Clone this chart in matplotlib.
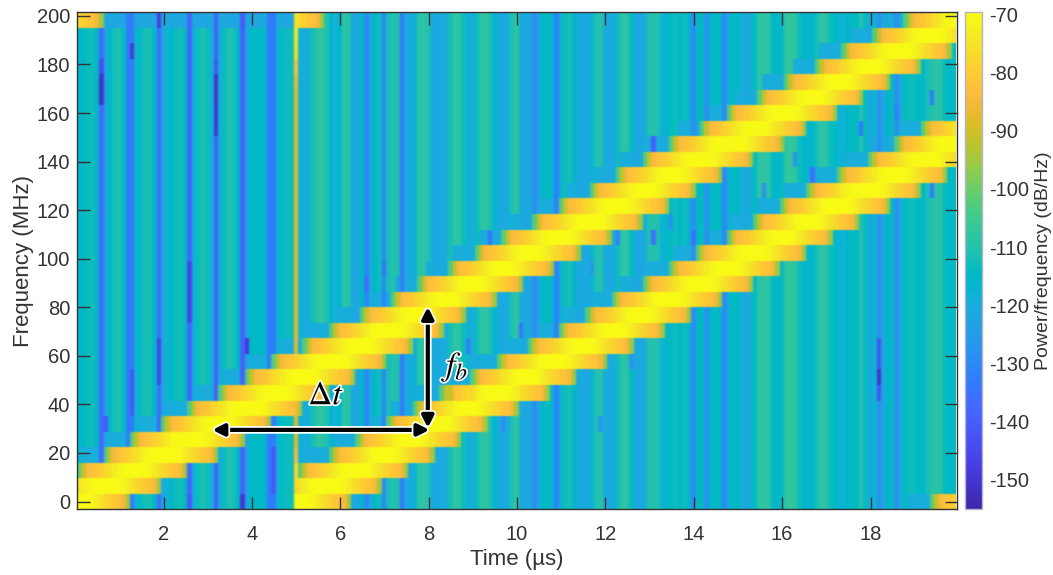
import matplotlib
matplotlib.use('Agg')
import matplotlib.pyplot as plt
import matplotlib.patheffects as pe
from matplotlib.colors import LinearSegmentedColormap
import numpy as np

plt.rcParams['font.family'] = ['Liberation Sans', 'DejaVu Sans']
plt.rcParams['mathtext.fontset'] = 'stix'
plt.rcParams['axes.unicode_minus'] = False

# Colour table of the colour bar
parula_rgb = [
    (0.2422, 0.1504, 0.6603), (0.2504, 0.1650, 0.7076), (0.2578, 0.1818, 0.7511), (0.2647, 0.1978, 0.7952),
    (0.2706, 0.2147, 0.8364), (0.2751, 0.2342, 0.8710), (0.2783, 0.2559, 0.8991), (0.2803, 0.2782, 0.9221),
    (0.2813, 0.3006, 0.9414), (0.2810, 0.3228, 0.9579), (0.2795, 0.3447, 0.9717), (0.2760, 0.3667, 0.9829),
    (0.2699, 0.3892, 0.9906), (0.2602, 0.4123, 0.9952), (0.2440, 0.4358, 0.9988), (0.2206, 0.4603, 0.9973),
    (0.1963, 0.4847, 0.9892), (0.1834, 0.5074, 0.9798), (0.1786, 0.5289, 0.9682), (0.1764, 0.5499, 0.9520),
    (0.1687, 0.5703, 0.9359), (0.1540, 0.5902, 0.9218), (0.1460, 0.6091, 0.9079), (0.1380, 0.6276, 0.8973),
    (0.1248, 0.6459, 0.8883), (0.1113, 0.6635, 0.8763), (0.0952, 0.6798, 0.8598), (0.0689, 0.6948, 0.8394),
    (0.0297, 0.7082, 0.8163), (0.0036, 0.7203, 0.7917), (0.0067, 0.7312, 0.7660), (0.0433, 0.7411, 0.7394),
    (0.0964, 0.7500, 0.7120), (0.1408, 0.7584, 0.6842), (0.1717, 0.7670, 0.6554), (0.1938, 0.7758, 0.6251),
    (0.2161, 0.7843, 0.5923), (0.2470, 0.7918, 0.5567), (0.2906, 0.7973, 0.5188), (0.3406, 0.8008, 0.4789),
    (0.3909, 0.8029, 0.4354), (0.4456, 0.8024, 0.3909), (0.5044, 0.7993, 0.3480), (0.5616, 0.7942, 0.3045),
    (0.6174, 0.7876, 0.2612), (0.6720, 0.7793, 0.2227), (0.7242, 0.7698, 0.1910), (0.7738, 0.7598, 0.1646),
    (0.8203, 0.7498, 0.1535), (0.8634, 0.7406, 0.1596), (0.9035, 0.7330, 0.1774), (0.9393, 0.7288, 0.2100),
    (0.9728, 0.7298, 0.2394), (0.9956, 0.7434, 0.2371), (0.9970, 0.7659, 0.2199), (0.9952, 0.7893, 0.2028),
    (0.9892, 0.8136, 0.1885), (0.9786, 0.8386, 0.1766), (0.9676, 0.8639, 0.1643), (0.9610, 0.8890, 0.1537),
    (0.9597, 0.9135, 0.1423), (0.9628, 0.9373, 0.1265), (0.9691, 0.9606, 0.1064), (0.9769, 0.9839, 0.0805),
]

# Noise floor of each 0.1 us column (dB/Hz)
column_db = [
    -116, -115, -113, -113, -115, -137, -122, -116, -112, -111,
    -114, -133, -134, -118, -114, -112, -112, -115, -137, -122,
    -118, -115, -113, -112, -114, -138, -119, -113, -111, -113,
    -119, -139, -119, -113, -111, -112, -115, -139, -123, -115,
    -114, -115, -117, -133, -133, -118, -114, -113, -113, -88,
    -118, -121, -118, -112, -108, -108, -111, -117, -119, -115,
    -109, -110, -121, -122, -115, -130, -120, -115, -113, -131,
    -112, -110, -111, -134, -121, -121, -118, -109, -109, -110,
    -120, -121, -121, -120, -112, -108, -108, -113, -119, -120,
    -113, -109, -108, -111, -117, -121, -121, -119, -111, -109,
    -120, -122, -121, -129, -121, -115, -114, -116, -132, -118,
    -113, -112, -116, -121, -121, -121, -118, -111, -110, -120,
    -121, -121, -113, -109, -109, -114, -121, -122, -120, -111,
    -110, -111, -118, -116, -114, -113, -115, -113, -117, -129,
    -115, -114, -128, -116, -114, -115, -130, -118, -114, -115,
    -120, -121, -119, -114, -109, -108, -109, -115, -116, -114,
    -108, -107, -108, -113, -116, -117, -116, -112, -109, -109,
    -113, -115, -118, -118, -116, -114, -115, -110, -114, -122,
    -118, -128, -122, -116, -114, -128, -120, -114, -113, -113,
    -115, -116, -112, -110, -109, -110, -114, -115, -114,
]

# Chirp bands: (row, start, end), row is the frequency bin, times in us
band_row = [
    0, 1, 2, 3, 4, 5, 6, 7, 8, 9, 10, 11, 12, 13, 14, 15,
    16, 17, 18, 19, 20, 21, 22, 23, 24, 25, 26, 27, 28, 29, 30, 31,
    31, 0,
    0, 1, 2, 3, 4, 5, 6, 7, 8, 9, 10, 11, 12,
    13, 14, 15, 16, 17, 18, 19, 20, 21, 22, 23, 24,
    31,
]
band_start = [
    -1.25, -0.62, 0.02, 0.67, 1.28, 1.92, 2.55, 3.20, 3.82, 4.47, 5.10, 5.76, 6.44, 7.10, 7.76, 8.40,
    9.00, 9.60, 10.30, 10.96, 11.60, 12.20, 12.85, 13.45, 14.10, 14.77, 15.45, 16.06, 16.70, 17.30, 18.00, 18.70,
    -1.90, 19.30,
    3.75, 4.38, 5.03, 5.70, 6.30, 7.00, 7.64, 8.29, 8.97, 9.57, 10.24, 10.90, 11.53,
    12.17, 12.80, 13.45, 14.07, 14.70, 15.30, 15.98, 16.55, 17.20, 17.90, 18.55, 19.15,
    3.10,
]
band_end = [
    1.28, 1.92, 2.55, 3.20, 3.80, 4.47, 5.10, 5.75, 6.35, 7.00, 7.65, 8.30, 8.87, 9.50, 10.13, 10.80,
    11.45, 12.10, 12.80, 13.40, 14.00, 14.65, 15.30, 16.00, 16.55, 17.20, 17.80, 18.40, 19.15, 19.80, 20.50, 21.10,
    0.65, 21.90,
    6.28, 6.92, 7.55, 8.14, 8.78, 9.38, 10.00, 10.70, 11.35, 12.00, 12.60, 13.30, 13.95,
    14.60, 15.30, 15.95, 16.55, 17.15, 17.75, 18.40, 19.10, 19.70, 20.40, 21.00, 21.70,
    5.65,
]
# Second chirp only exists after the switch at 5 us
band_from = [-9.0] * 34 + [4.94] * 26

# Power across the edge of a band, one value per column
rise_db = [-102, -91, -84, -82, -81, -79, -77, -75, -73, -71]
fall_db = [-71, -73, -75, -77, -79, -81, -82, -85, -95]
top_db = -70

# Single cells that differ from their column
spot_time = [0.6, 0.6, 0.6, 1.25, 1.85, 3.2, 3.2, 3.2, 3.2, 3.2, 3.8,
             2.6, 2.6, 2.6, 2.6, 1.9, 1.9, 1.9, 3.85, 1.25, 1.25, 1.25, 0.65, 3.8, 2.55,
             4.45, 4.45, 4.45, 18.2, 18.2, 18.2, 18.2,
             7.0, 7.0, 10.13, 8.85, 11.65, 17.03, 13.97, 16.7, 19.35, 18.55, 19.35, 17.8,
             9.4, 13.1, 13.1, 12.25, 6.62, 9.7, 11.1, 11.9, 15.6, 16.3, 13.5, 12.6]
spot_row = [26, 27, 28, 29, 31, 24, 25, 26, 27, 28, 31,
            12, 13, 14, 15, 8, 9, 10, 10, 6, 7, 8, 5, 0, 0,
            1, 2, 3, 8, 7, 9, 10,
            15, 7, 11, 10, 15, 28, 17, 21, 20, 25, 26, 24,
            17, 23, 17, 17, 14, 5, 8, 5, 20, 22, 18, 9]
spot_db = [-151, -151, -144, -149, -148, -150, -150, -151, -151, -142, -141,
           -146, -146, -146, -146, -146, -146, -146, -149, -142, -142, -142, -141, -150, -141,
           -141, -141, -141, -151, -143, -143, -143,
           -136, -130, -134, -132, -126, -134, -136, -136, -134, -132, -133, -134,
           -136, -140, -136, -131, -136, -128, -129, -126, -128, -127, -129, -127]

# Cells of the 5 us line that are not green
line_row = [2, 3, 27, 28, 29, 30]
line_db = [-78, -84, -86, -82, -76, -74]

# Arrows and labels
dt_arrow_t = [3.1, 8.02]
dt_arrow_f = [29.5, 29.5]
fb_arrow_t = [7.98, 7.98]
fb_arrow_f = [30.3, 80.2]

time_step = 0.1
freq_step = 6.4
time_first = 0.04


def soften(image, dpi):
    # The reference is a slightly blurred screenshot
    out = np.pad(image, 2, mode='edge')[:, :, 2:-2]
    for axis, weights in [(1, (0.25, 0.5, 0.25)), (1, (0.25, 0.5, 0.25)), (0, (0.2, 0.6, 0.2))]:
        out = weights[0] * np.roll(out, 1, axis) + weights[1] * out + weights[2] * np.roll(out, -1, axis)
    return out[2:-2, 2:-2], 0, 0


# Build the power matrix
n_rows = 32
n_cols = len(column_db)
time_edges = time_first + time_step * np.arange(n_cols + 1)
freq_edges = freq_step * (np.arange(n_rows + 1) - 0.5)
time_mid = (time_edges[:-1] + time_edges[1:]) / 2
power = np.tile(np.array(column_db, dtype=float), (n_rows, 1))

# The top row stays a flat blue left of the switch
power[31, :49] = np.minimum(power[31, :49], -122)

for t, r, db in zip(spot_time, spot_row, spot_db):
    power[r, np.argmin(np.abs(time_mid - t))] = db

for r, db in zip(line_row, line_db):
    power[r, 49] = db

# Dim the cells just before a band, then draw the band
for r, start, end, t_from in zip(band_row, band_start, band_end, band_from):
    before = (time_mid > start - 0.5) & (time_mid < start) & (time_mid > t_from) & (time_mid < 4.94)
    power[r, before] = np.minimum(power[r, before], -120)
    before = (time_mid > start - 0.5) & (time_mid < start) & (time_mid > t_from) & (time_mid > 5.04)
    power[r, before] = np.minimum(power[r, before], -120)
for r, start, end, t_from in zip(band_row, band_start, band_end, band_from):
    for c in np.where((time_mid >= start) & (time_mid <= end) & (time_mid > t_from))[0]:
        from_start = int((time_mid[c] - start) / time_step)
        from_end = int((end - time_mid[c]) / time_step)
        db = top_db
        if from_start < len(rise_db):
            db = rise_db[from_start]
        if from_end < len(fall_db):
            db = min(db, fall_db[len(fall_db) - 1 - from_end])
        power[r, c] = db

# Create the figure
W, H = 1053, 575
fig = plt.figure(figsize=(W / 100, H / 100), dpi=100)
ax = fig.add_axes([77 / W, 1 - 509.3 / H, (956.7 - 77) / W, (509.3 - 12) / H])
cax = fig.add_axes([965 / W, 1 - 509.3 / H, (981.7 - 965) / W, (509.3 - 12) / H])

parula = LinearSegmentedColormap.from_list('parula', parula_rgb, N=256)
mesh = ax.pcolormesh(time_edges, freq_edges, power, cmap=parula, vmin=-155.2, vmax=-69.5, shading='flat')
mesh.set_agg_filter(soften)

ax.set_xlim(time_edges[0], 19.95)
ax.set_ylim(freq_edges[0], freq_edges[-1])
ax.set_xticks(np.arange(2, 20, 2))
ax.set_yticks(np.arange(0, 220, 20))
ax.tick_params(direction='in', length=9, width=1, top=True, right=True, labelsize=14.5,
               colors='#333333', pad=5)
ax.tick_params(axis='x', pad=11)
ax.set_axisbelow(False)
for s in ax.spines.values():
    s.set_linewidth(1)
    s.set_color('#333333')
ax.set_xlabel('Time (µs)', fontsize=16, color='#333333', labelpad=4)
ax.set_ylabel('Frequency (MHz)', fontsize=16, color='#333333', labelpad=2)

cbar = fig.colorbar(mesh, cax=cax)
cbar.set_ticks(np.arange(-150, -60, 10))
cbar.ax.tick_params(length=0, labelsize=14.5, colors='#333333', pad=5)
cbar.outline.set_edgecolor('#b4b4c8')
cbar.outline.set_linewidth(1)
cbar.set_label('Power/frequency (dB/Hz)', fontsize=14, color='#333333')
cbar.ax.yaxis.set_label_coords(4.2, 0.5)

# Annotations with a white edge
halo = [pe.withStroke(linewidth=5.5, foreground='white')]
for ts, fs in [(dt_arrow_t, dt_arrow_f), (fb_arrow_t, fb_arrow_f)]:
    ax.annotate('', xy=(ts[1], fs[1]), xytext=(ts[0], fs[0]),
                arrowprops=dict(arrowstyle='<|-|>', lw=3, color='black', mutation_scale=17,
                                shrinkA=0, shrinkB=0, path_effects=halo))
text_halo = [pe.withStroke(linewidth=2.5, foreground='white')]
ax.text(5.68, 43.5, r'$\Delta t$', fontsize=24, ha='center', va='center', color='black', path_effects=text_halo)
ax.text(8.7, 55.4, r'$f_b$', fontsize=24, ha='center', va='center', color='black', path_effects=text_halo)

plt.savefig('out.png', dpi=100)
